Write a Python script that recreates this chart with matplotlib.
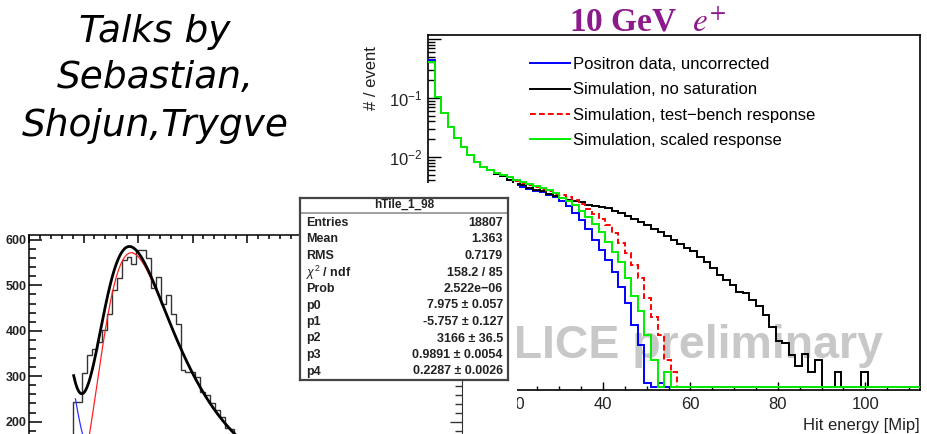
import numpy as np
import matplotlib
matplotlib.use("Agg")
import matplotlib.pyplot as plt
from matplotlib.patches import Rectangle
from matplotlib.lines import Line2D
from matplotlib.ticker import LogLocator, MultipleLocator, FixedLocator, FuncFormatter, NullFormatter

plt.rcParams["font.family"] = ["Liberation Sans", "DejaVu Sans"]
plt.rcParams["mathtext.fontset"] = "custom"
plt.rcParams["mathtext.rm"] = "Liberation Sans"
plt.rcParams["mathtext.it"] = "Liberation Sans:italic"
plt.rcParams["mathtext.bf"] = "Liberation Sans:bold"

W, H = 927, 434

# ---- hit energy spectra, 10 GeV e+ (per event, 1.5 Mip bins) ----
bin_width = 1.5
n_bins = 75
positron_data = [0.44, 0.104, 0.056, 0.032, 0.021, 0.0148, 0.0108, 0.0082, 0.0068, 0.0060,
                 0.0052, 0.0048, 0.0041, 0.0034, 0.0031, 0.0029, 0.0027, 0.0025, 0.0023, 0.0021,
                 0.0018, 0.0015, 0.00112, 8.6e-4, 6.0e-4, 3.9e-4, 2.65e-4, 1.8e-4, 1.12e-4, 6.3e-5,
                 3.4e-5, 1.4e-5, 6.5e-6, 1.5e-6, 0, 1.5e-6] + [0.0] * 39
sim_no_sat = [0.41, 0.104, 0.056, 0.032, 0.021, 0.0148, 0.0108, 0.0082, 0.0068, 0.0060,
              0.0052, 0.0047, 0.0041, 0.0035, 0.0033, 0.0030, 0.0028, 0.0026, 0.0024, 0.0022,
              0.0020, 0.0019, 0.0018, 0.0017, 0.00155, 0.0015, 0.0014, 0.00135, 0.00122, 0.00112,
              0.0010, 8.9e-4, 7.9e-4, 7.0e-4, 6.0e-4, 5.4e-4, 4.6e-4, 3.9e-4, 3.4e-4, 2.9e-4,
              2.55e-4, 2.0e-4, 1.66e-4, 1.32e-4, 1.0e-4, 8.2e-5, 6.8e-5, 5.2e-5, 5.0e-5, 3.8e-5,
              3.0e-5, 2.1e-5, 1.3e-5, 7.6e-6, 7.0e-6, 4.4e-6, 2.9e-6, 4.6e-6, 2.3e-6, 3.6e-6,
              0, 0, 2.3e-6, 0, 0, 0, 2.3e-6, 0, 0, 0,
              0, 0, 0, 0, 0]
sim_testbench = [0.41, 0.104, 0.056, 0.032, 0.021, 0.0148, 0.0108, 0.0082, 0.0068, 0.0060,
                 0.0053, 0.0049, 0.0045, 0.0039, 0.0036, 0.0034, 0.0031, 0.0029, 0.0027, 0.00236,
                 0.00227, 0.0021, 0.00187, 0.0016, 0.0013, 0.00108, 8.9e-4, 7.0e-4, 5.2e-4, 3.5e-4,
                 2.4e-4, 1.48e-4, 8.9e-5, 4.1e-5, 1.9e-5, 9.6e-6, 3.6e-6, 2.3e-6] + [0.0] * 37
sim_scaled = [0.41, 0.104, 0.056, 0.032, 0.021, 0.0148, 0.0108, 0.0082, 0.0068, 0.0060,
              0.0054, 0.0050, 0.0046, 0.0041, 0.0038, 0.0035, 0.0032, 0.0030, 0.0028, 0.00245,
              0.0020, 0.0018, 0.00154, 0.00122, 9.6e-4, 7.3e-4, 5.4e-4, 3.6e-4, 2.45e-4, 1.66e-4,
              8.9e-5, 4.4e-5, 2.4e-5, 9.6e-6, 3.6e-6, 0, 2.3e-6] + [0.0] * 38
labels = ["Positron data, uncorrected", "Simulation, no saturation",
          "Simulation, test\u2212bench response", "Simulation, scaled response"]
labelled_decades = [-1, -2]

# ---- single tile MIP spectrum (hTile_1_98) ----
tile_start = 0.40
tile_width = 0.045
tile_counts = [244, 244, 308, 347, 359, 376, 402, 438, 490, 516, 556, 563, 547, 578, 578,
               560, 494, 518, 460, 479, 438, 416, 314, 310, 310, 299, 266, 259, 240, 226,
               211, 185, 183, 168, 160]
# fit: exp(p0 + p1*x) + p2 * Landau(x; p3, p4)
p0, p1, p2, p3, p4 = 7.975, -5.757, 3166.0, 0.9891, 0.2287
stat_labels = ["Entries", "Mean", "RMS", r"$\chi^2$ / ndf", "Prob", "p0", "p1", "p2", "p3", "p4"]
stat_values = ["18807", "1.363", "0.7179", "158.2 / 85", "2.522e\u221206",
               f"{p0:.3f} \u00b1 0.057", f"{p1:.3f} \u00b1 0.127", f"{p2:.0f} \u00b1 36.5",
               f"{p3:.4f} \u00b1 0.0054", f"{p4:.4f} \u00b1 0.0026"]


def px_box(x0, y0, x1, y1):
    # pixel box (origin top-left) -> figure rect
    return [x0 / W, 1 - y1 / H, (x1 - x0) / W, (y1 - y0) / H]


def landau(lam):
    # Landau density, same convention as ROOT's TMath::Landau
    t = np.linspace(1e-7, 30, 100000)
    out = []
    for l in np.atleast_1d(lam):
        f = np.exp(-t * np.log(t) - l * t) * np.sin(np.pi * t)
        out.append(np.trapezoid(f, t) / np.pi)
    return np.array(out)


def decade_label(v, pos):
    e = int(round(np.log10(v)))
    return r"$10^{%d}$" % e if e in labelled_decades else ""


fig = plt.figure(figsize=(W / 100, H / 100), dpi=100)
fig.patch.set_facecolor("white")

# ---------------- main spectrum ----------------
ax = fig.add_axes(px_box(428, 35, 920, 390))
ymin, ymax = 1.12e-6, 1.17
floor = 1.25e-6
edges = np.arange(n_bins + 1) * bin_width
series = [(positron_data, "#0000ff", "-"), (sim_no_sat, "black", "-"),
          (sim_testbench, "#ff0000", (0, (3, 1.6))), (sim_scaled, "#00ee00", "-")]
for i, (vals, col, ls) in enumerate(series):
    v = np.maximum(np.asarray(vals, float), floor)
    ax.stairs(v, edges, baseline=None, color=col, lw=1.4, linestyle=ls, zorder=3 + i)
ax.set_yscale("log")
ax.set_xlim(0, n_bins * bin_width)
ax.set_ylim(ymin, ymax)
ax.xaxis.set_major_locator(MultipleLocator(20))
ax.xaxis.set_minor_locator(MultipleLocator(5))
ax.yaxis.set_major_locator(LogLocator(base=10, numticks=20))
ax.yaxis.set_minor_locator(LogLocator(base=10, subs=np.arange(2, 10), numticks=20))
ax.yaxis.set_major_formatter(FuncFormatter(decade_label))
ax.yaxis.set_minor_formatter(NullFormatter())
ax.tick_params(axis="x", which="major", direction="in", length=6, width=1, labelsize=12,
               pad=5, labelcolor="#222222")
ax.tick_params(axis="x", which="minor", direction="in", length=3, width=1)
ax.tick_params(axis="y", which="major", direction="in", length=9.5, width=1, labelsize=12,
               pad=4, labelcolor="#222222")
ax.tick_params(axis="y", which="minor", direction="in", length=5, width=1)
for s in ax.spines.values():
    s.set_linewidth(1.2)
ax.text(0.925, 0.09, "ALICE preliminary", transform=ax.transAxes, ha="right",
        va="baseline", fontsize=33.5, fontweight="bold", color="#c8c8c8", zorder=1)
handles = [Line2D([], [], color=c, lw=1.4, linestyle=ls) for _, c, ls in series]
ax.legend(handles, labels, loc="upper left", bbox_to_anchor=(0.207, 0.938),
          frameon=False, fontsize=12, handlelength=2.4, handletextpad=0.2,
          labelspacing=0.62, borderpad=0, borderaxespad=0)

fig.text(648 / W, 1 - 31 / H, r"10 GeV  $e^{+}$", ha="center", va="baseline",
         fontsize=24, fontweight="bold", family="Liberation Serif",
         math_fontfamily="stix", color="#8c1a8c")
fig.text(372 / W, 1 - 78 / H, "# / event", rotation=90, ha="center", va="center",
         fontsize=12, color="#222222")
fig.text(920 / W, 1 - 430 / H, "Hit energy [Mip]", ha="right", va="baseline",
         fontsize=12, color="#222222")

# ---------------- tile spectrum with fit ----------------
ax2 = fig.add_axes(px_box(29, 235, 300, 434))
tile_edges = tile_start + np.arange(len(tile_counts) + 1) * tile_width
ax2.stairs(tile_counts, tile_edges, baseline=0, color="#333333", lw=1.0)
xf = np.linspace(0.41, 2.5, 260)
bkg = np.exp(p0 + p1 * xf)
sig = p2 * landau((xf - p3) / p4)
ax2.plot(xf[xf > 0.42], bkg[xf > 0.42], color="#3030ff", lw=0.9)
ax2.plot(xf, sig, color="#ff2020", lw=0.9)
ax2.plot(xf, bkg + sig, color="black", lw=2.0)
ax2.set_xlim(0, 271 / 109)
ax2.set_ylim(172.7, 611)
ax2.yaxis.set_major_locator(MultipleLocator(100))
ax2.yaxis.set_minor_locator(MultipleLocator(20))
ax2.xaxis.set_major_locator(MultipleLocator(0.5))
ax2.xaxis.set_minor_locator(MultipleLocator(0.1))
ax2.tick_params(axis="x", which="both", top=True, bottom=False, labeltop=False,
                labelbottom=False, direction="in", width=1.1)
ax2.tick_params(axis="x", which="major", length=6)
ax2.tick_params(axis="x", which="minor", length=3)
ax2.tick_params(axis="y", which="major", direction="in", length=9.5, width=1.1,
                labelsize=9, pad=1.5, labelcolor="#222222")
ax2.tick_params(axis="y", which="minor", direction="in", length=5, width=1.1)
for lab in ax2.get_yticklabels():
    lab.set_fontweight("bold")
ax2.spines["bottom"].set_visible(False)
ax2.spines["right"].set_visible(False)
ax2.spines["left"].set_linewidth(1.1)
ax2.spines["top"].set_linewidth(1.1)

# white area under the stats box
fig.add_artist(Rectangle((299 / W, 0), 218 / W, 1 - 183 / H, transform=fig.transFigure,
                         facecolor="white", edgecolor="none", zorder=1))

# partial frame of the panel below the stats box
ax3 = fig.add_axes(px_box(300, 378, 462, 434), zorder=2)
ax3.set_facecolor("none")
ax3.set_ylim(-12, 44)
ax3.set_xticks([])
ax3.yaxis.set_major_locator(FixedLocator([0]))
ax3.yaxis.set_minor_locator(MultipleLocator(9))
ax3.tick_params(axis="y", which="both", left=False, right=True, labelleft=False,
                direction="in", width=1, color="#333333")
ax3.tick_params(axis="y", which="major", length=9)
ax3.tick_params(axis="y", which="minor", length=5)
for k in ["left", "top", "bottom"]:
    ax3.spines[k].set_visible(False)
ax3.spines["right"].set_color("#333333")

# stats box
sb = fig.add_axes(px_box(300, 198, 508, 380), zorder=3)
sb.set_facecolor("white")
sb.set_xticks([])
sb.set_yticks([])
for s in sb.spines.values():
    s.set_linewidth(1.6)
    s.set_color("#444444")
sb.text(0.5, 1 - 7 / 182, "hTile_1_98", transform=sb.transAxes, ha="center", va="center",
        fontsize=8.5, fontweight="bold", color="#222222")
sb.axhline(1 - 15 / 182, color="#999999", lw=1.3)
for i, (lab, val) in enumerate(zip(stat_labels, stat_values)):
    yy = 1 - (25 + 16.5 * i) / 182
    sb.text(6 / 208, yy, lab, transform=sb.transAxes, ha="left", va="center",
            fontsize=9, fontweight="bold", color="#222222")
    sb.text(1 - 5 / 208, yy, val, transform=sb.transAxes, ha="right", va="center",
            fontsize=9, fontweight="bold", color="#222222")

# handwritten-style note
note = ["Talks by", "Sebastian,", "Shojun,Trygve"]
for line, base in zip(note, [42, 88, 136]):
    fig.text(155 / W, 1 - base / H, line, ha="center", va="baseline", fontsize=27,
             family="DejaVu Sans", style="italic", color="black")

fig.savefig("out.png", dpi=100)
